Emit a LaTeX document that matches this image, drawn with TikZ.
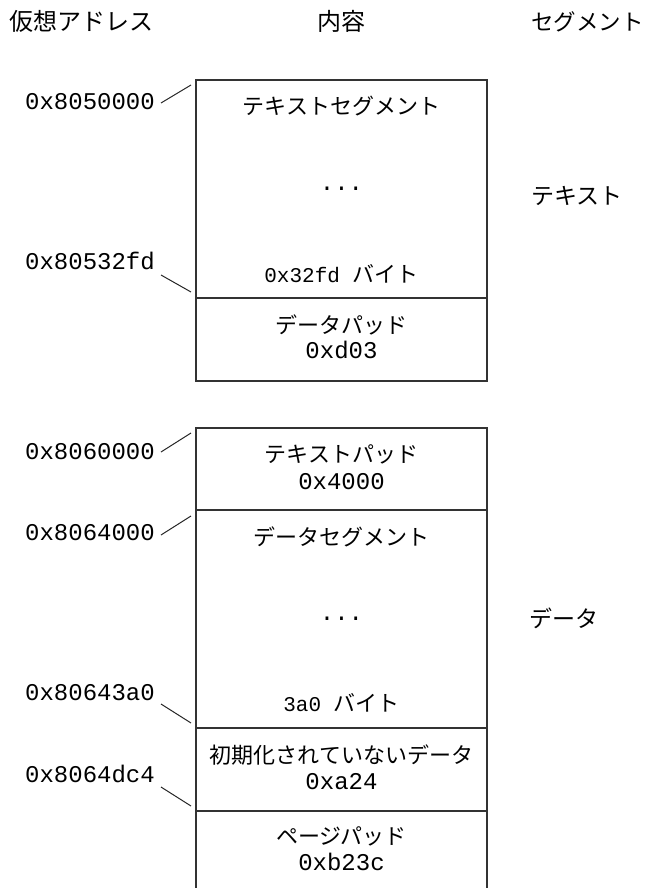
\documentclass[tikz,border=0pt]{standalone}
\usepackage{fontspec}
\newfontfamily\jpfont{Noto Sans CJK JP}
\newfontfamily\monofont{Liberation Mono}
\begin{document}
\begin{tikzpicture}[x=1pt,y=-1pt,
  boxline/.style={draw=black!80, line width=1.3pt},
  lead/.style={draw=black!85, line width=1pt},
  jp/.style={font=\jpfont\fontsize{22}{26}\selectfont, inner sep=0pt, anchor=base},
  jphead/.style={font=\jpfont\fontsize{24}{28}\selectfont, inner sep=0pt},
  jpside/.style={font=\jpfont\fontsize{23}{27}\selectfont, inner sep=0pt},
  hex/.style={font=\monofont\fontsize{24}{28}\selectfont, inner sep=0pt, anchor=base},
  addr/.style={hex, anchor=base east},
  smallhex/.style={font=\monofont\fontsize{21}{25}\selectfont, inner sep=0pt, anchor=base}]
\useasboundingbox (0,0) rectangle (650,888);

% headers
\node[jphead, anchor=base west] (h1) at (9,31) {仮想アドレス};
\node[jphead, anchor=base] (h2) at (341,31) {内容};
\node[jpside, anchor=base west, font=\jpfont\fontsize{22.5}{27}\selectfont] (h3) at (531,31) {セグメント};

% boxes
\draw[boxline] (196,80) rectangle (487,381);
\draw[boxline] (196,298) -- (487,298);
\draw[boxline] (196,888) -- (196,428) -- (487,428) -- (487,888);
\draw[boxline] (196,510) -- (487,510);
\draw[boxline] (196,728) -- (487,728);
\draw[boxline] (196,811) -- (487,811);

% contents, text segment
\node[jp] (tseg) at (341.5,115) {テキストセグメント};
\node[hex] (tdots) at (341.5,190) {...};
\node[smallhex] (tbytes) at (341.5,282) {0x32fd {\jpfont\fontsize{22}{26}\selectfont バイト}};
\node[jp] (dpad) at (341.5,333) {データパッド};
\node[hex] (dpadv) at (341.5,358) {0xd03};

% contents, data segment
\node[jp] (tpad) at (341.5,462) {テキストパッド};
\node[hex] (tpadv) at (341.5,489) {0x4000};
\node[jp] (dseg) at (341.5,545) {データセグメント};
\node[hex] (ddots) at (341.5,620) {...};
\node[smallhex] (dbytes) at (341.5,711) {3a0 {\jpfont\fontsize{22}{26}\selectfont バイト}};
\node[jp] (bss) at (341.5,763) {初期化されていないデータ};
\node[hex] (bssv) at (341.5,789) {0xa24};
\node[jp] (ppad) at (341.5,844) {ページパッド};
\node[hex] (ppadv) at (341.5,870) {0xb23c};

% segment names
\node[jpside, anchor=base west] (stext) at (531,204) {テキスト};
\node[jpside, anchor=base west] (sdata) at (529,627) {データ};

% addresses
\node[addr] (a1) at (155,110) {0x8050000};
\node[addr] (a2) at (155,269) {0x80532fd};
\node[addr] (a3) at (155,459) {0x8060000};
\node[addr] (a4) at (155,540) {0x8064000};
\node[addr] (a5) at (155,700) {0x80643a0};
\node[addr] (a6) at (155,782) {0x8064dc4};

% leader lines
\coordinate (a1s) at (161,103); \coordinate (a1e) at (191,85);
\coordinate (a2s) at (161,275); \coordinate (a2e) at (191,292);
\coordinate (a3s) at (161,452); \coordinate (a3e) at (191,433);
\coordinate (a4s) at (161,535); \coordinate (a4e) at (191,516);
\coordinate (a5s) at (161,704); \coordinate (a5e) at (191,723);
\coordinate (a6s) at (161,787); \coordinate (a6e) at (191,806);
\foreach \i in {1,...,6} \draw[lead] (a\i s) -- (a\i e);
\end{tikzpicture}
\end{document}
